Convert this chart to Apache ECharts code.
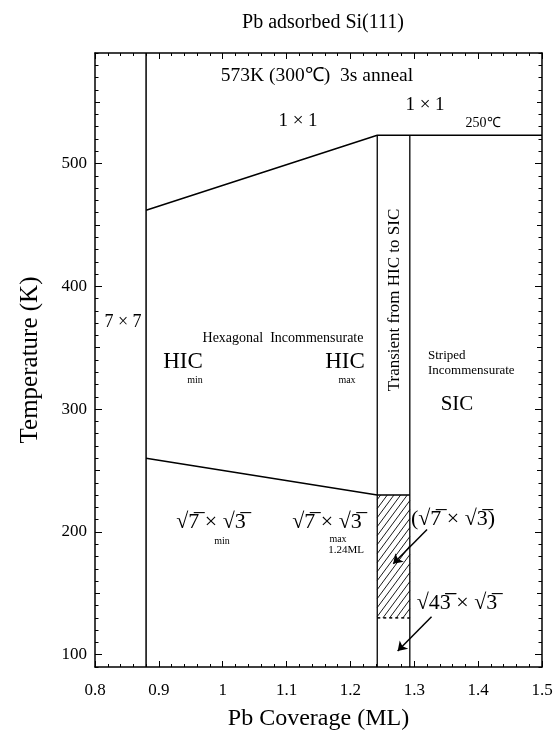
<!DOCTYPE html>
<html><head><meta charset="utf-8">
<script src="https://cdn.jsdelivr.net/npm/echarts@6/dist/echarts.min.js"></script>
<style>html,body{margin:0;padding:0;background:#fff}#c{width:558px;height:743px}</style>
</head><body><div id="c"></div>
<script>
// ---- data ----
const xMin = 0.8, xMax = 1.5, xStep = 0.1;
const yMin = 90, yMax = 590;
const yMajorTicks = [100, 200, 300, 400, 500];
const yMidTicks = [150, 250, 350, 450, 550];
const yMinorStep = 10;
const boundary7x7 = [[0.88, 90], [0.88, 590]];
const upperBoundary = [[0.88, 462], [1.242, 523], [1.5, 523]];
const lowerBoundary = [[0.88, 260], [1.242, 230], [1.293, 230]];
const hicMaxEdge = [[1.242, 90], [1.242, 523]];
const sicEdge = [[1.293, 90], [1.293, 523]];
const sqrt43Boundary = [[1.242, 130], [1.293, 130]];
const hatchRegion = [[1.242, 130, 1.293, 230]];
const arrowLines = [
  [[1.32, 202], [1.267, 174]],
  [[1.327, 131], [1.274, 103]]
];

const SERIF = "'Liberation Serif','Times New Roman',serif";
const chart = echarts.init(document.getElementById('c'), null, {renderer: 'canvas'});

function yAxisDef(pos, kind) {
  const base = {
    type: 'value', min: yMin, max: yMax, position: pos, gridIndex: 0,
    splitLine: {show: false},
    axisLine: {show: kind === 'major', onZero: false, lineStyle: {color: '#000', width: 1.5}},
    axisLabel: {show: false},
    axisTick: {show: true, inside: true, lineStyle: {color: '#000', width: 1}}
  };
  if (kind === 'major') {
    base.axisTick.customValues = yMajorTicks;
    base.axisTick.length = 7;
    if (pos === 'left') {
      base.axisLabel = {show: true, customValues: yMajorTicks, color: '#000',
        fontFamily: SERIF, fontSize: 17, margin: 8};
      base.name = 'Temperature (K)';
      base.nameLocation = 'middle';
      base.nameGap = 52;
      base.nameTextStyle = {fontFamily: SERIF, fontSize: 25, color: '#000'};
    }
  } else if (kind === 'mid') {
    base.axisTick.customValues = yMidTicks;
    base.axisTick.length = 5;
  } else {
    base.interval = yMinorStep;
    base.axisTick.length = 3.5;
  }
  return base;
}

function xAxisDef(pos) {
  return {
    type: 'value', min: xMin, max: xMax, interval: xStep, position: pos,
    splitLine: {show: false},
    axisLine: {onZero: false, lineStyle: {color: '#000', width: 1.5}},
    axisTick: {inside: true, length: 6, lineStyle: {color: '#000', width: 1}},
    minorTick: {show: true, splitNumber: 5, length: 3, lineStyle: {color: '#000', width: 1}},
    minorSplitLine: {show: false},
    axisLabel: pos === 'bottom' ? {color: '#000', fontFamily: SERIF, fontSize: 17, margin: 15,
      formatter: v => String(Math.round(v * 10) / 10)} : {show: false},
    name: pos === 'bottom' ? 'Pb Coverage (ML)' : '',
    nameLocation: 'middle', nameGap: 40,
    nameTextStyle: {fontFamily: SERIF, fontSize: 24, color: '#000'}
  };
}

const lineStyleBlack = {color: '#000', width: 1.5};
function lineSeries(data, extra) {
  return Object.assign({
    type: 'line', data: data, xAxisIndex: 0, yAxisIndex: 0, symbol: 'none',
    lineStyle: Object.assign({}, lineStyleBlack), silent: true, z: 3
  }, extra || {});
}

function txt(x, y, text, size, opts) {
  return Object.assign({
    type: 'text', x: x, y: y, silent: true,
    style: Object.assign({text: text, fontFamily: SERIF, fontSize: size, fill: '#000',
      align: 'center', verticalAlign: 'middle'}, (opts && opts.style) || {})
  }, opts && opts.rotation !== undefined ? {rotation: opts.rotation} : {});
}

const option = {
  animation: false,
  backgroundColor: '#fff',
  title: {text: 'Pb adsorbed Si(111)', left: 318, top: 8, textAlign: 'center',
    textStyle: {fontFamily: SERIF, fontSize: 20, fontWeight: 'normal', color: '#000'}},
  grid: {left: 95, right: 16, top: 53, bottom: 76, containLabel: false},
  xAxis: [xAxisDef('bottom'), xAxisDef('top')],
  yAxis: [
    yAxisDef('left', 'major'), yAxisDef('left', 'mid'), yAxisDef('left', 'minor'),
    yAxisDef('right', 'major'), yAxisDef('right', 'mid'), yAxisDef('right', 'minor')
  ],
  series: [
    lineSeries(boundary7x7),
    lineSeries(upperBoundary),
    lineSeries(lowerBoundary),
    lineSeries(hicMaxEdge, {lineStyle: {color: '#000', width: 1.3}}),
    lineSeries(sicEdge, {lineStyle: {color: '#000', width: 1.3}}),
    lineSeries(sqrt43Boundary, {lineStyle: {color: '#000', width: 1.5, type: [3, 3]}}),
    {
      type: 'custom', xAxisIndex: 0, yAxisIndex: 0, silent: true, z: 2,
      data: hatchRegion,
      encode: {x: [0, 2], y: [1, 3]},
      renderItem: function (params, api) {
        const tl = api.coord([api.value(0), api.value(3)]);
        const br = api.coord([api.value(2), api.value(1)]);
        const x0 = tl[0], y0 = tl[1], x1 = br[0], y1 = br[1];
        const m = 1.35, gap = 9;
        const children = [];
        for (let c = y0 + m * x0 + gap / 2; c < y1 + m * x1; c += gap) {
          const xa = Math.max(x0, (c - y1) / m);
          const xb = Math.min(x1, (c - y0) / m);
          if (xb <= xa) continue;
          children.push({type: 'line', shape: {x1: xa, y1: c - m * xa, x2: xb, y2: c - m * xb},
            style: {stroke: '#000', lineWidth: 0.9}});
        }
        return {type: 'group', children: children};
      }
    },
    {
      type: 'lines', coordinateSystem: 'cartesian2d', xAxisIndex: 0, yAxisIndex: 0,
      symbol: ['none', 'arrow'], symbolSize: 9, silent: true, z: 4,
      lineStyle: {color: '#000', width: 1.5, opacity: 1, curveness: 0},
      data: arrowLines.map(c => ({coords: c}))
    }
  ],
  graphic: [
    txt(317, 76, '573K (300\u2103)  3s anneal', 19.5),
    txt(425, 105, '1 \u00d7 1', 19),
    txt(483, 123, '250\u2103', 14),
    txt(298, 121, '1 \u00d7 1', 19),
    txt(123, 322, '7 \u00d7 7', 18),
    txt(283, 338, 'Hexagonal  Incommensurate', 14),
    txt(183, 362, 'HIC', 23),
    txt(195, 380, 'min', 10),
    txt(345, 362, 'HIC', 23),
    txt(347, 380, 'max', 10),
    txt(428, 356, 'Striped', 13, {style: {align: 'left'}}),
    txt(428, 371, 'Incommensurate', 13, {style: {align: 'left'}}),
    txt(457, 404, 'SIC', 21),
    txt(395, 300, 'Transient from HIC to SIC', 17, {rotation: Math.PI / 2}),
    txt(211, 522, '\u221a7\u0305 \u00d7 \u221a3\u0305', 22),
    txt(222, 541, 'min', 10),
    txt(327, 522, '\u221a7\u0305 \u00d7 \u221a3\u0305', 22),
    txt(338, 539, 'max', 10),
    txt(346, 550, '1.24ML', 11),
    txt(453, 519, '(\u221a7\u0305 \u00d7 \u221a3\u0305)', 22),
    txt(457, 603, '\u221a43\u0305\u0305 \u00d7 \u221a3\u0305', 22)
  ]
};
chart.setOption(option);
</script>
</body></html>
